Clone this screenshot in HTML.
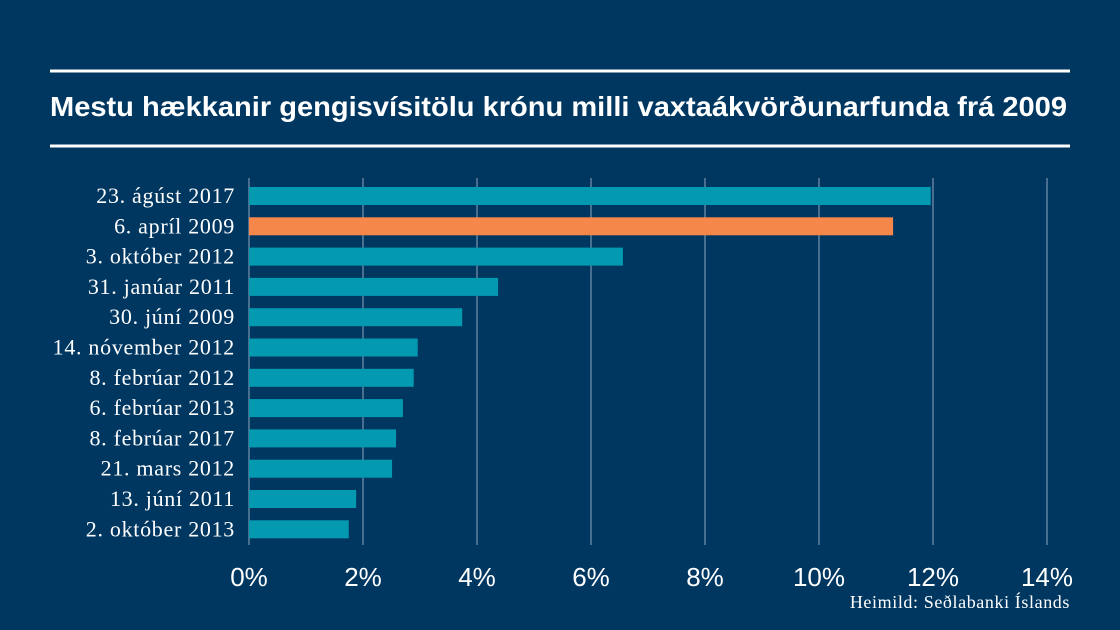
<!DOCTYPE html>
<html><head><meta charset="utf-8"><style>
body{margin:0;background:#003761;}
svg{display:block}
</style></head><body>
<svg id="c" width="1120" height="630" xmlns="http://www.w3.org/2000/svg">
<rect width="1120" height="630" fill="#003761"/>
<line x1="50" y1="71" x2="1070" y2="71" stroke="#fff" stroke-width="3"/>
<text x="50" y="116" fill="#fff" font-family="'Liberation Sans',sans-serif" font-size="28" font-weight="bold" textLength="1017" lengthAdjust="spacingAndGlyphs">Mestu hækkanir gengisvísitölu krónu milli vaxtaákvörðunarfunda frá 2009</text>
<line x1="50" y1="146" x2="1070" y2="146" stroke="#fff" stroke-width="3"/>
<g id="grid"></g><g id="bars"></g><g id="labels"></g><g id="ticks"></g>
<text x="1070" y="608" text-anchor="end" fill="#fff" font-family="'Liberation Serif',serif" font-size="18" letter-spacing="0.6">Heimild: Seðlabanki Íslands</text>
</svg>
<script>
const categories=["23. ágúst 2017","6. apríl 2009","3. október 2012","31. janúar 2011","30. júní 2009","14. nóvember 2012","8. febrúar 2012","6. febrúar 2013","8. febrúar 2017","21. mars 2012","13. júní 2011","2. október 2013"];
const values=[11.96,11.3,6.56,4.37,3.74,2.96,2.89,2.70,2.58,2.51,1.88,1.75];
const highlight=[false,true,false,false,false,false,false,false,false,false,false,false];
const tickValues=[0,2,4,6,8,10,12,14];
const tickLabels=["0%","2%","4%","6%","8%","10%","12%","14%"];
const NS="http://www.w3.org/2000/svg";
const x=v=>249+v*57;
const y=i=>196+i*30.3;
function mk(t,a,p){const e=document.createElementNS(NS,t);for(const k in a)e.setAttribute(k,a[k]);p.appendChild(e);return e;}
const G=document.getElementById('grid'),B=document.getElementById('bars'),L=document.getElementById('labels'),T=document.getElementById('ticks');
tickValues.forEach((v,i)=>{
 const l=mk('line',{x1:x(v),x2:x(v),y1:178,y2:545,stroke:'#8fa6bf','stroke-width':1},G);
 
 
 const t=mk('text',{x:x(v),y:586,'text-anchor':'middle',fill:'#fff','font-family':"'Liberation Sans',sans-serif",'font-size':26},T);
 t.textContent=tickLabels[i];
 
 
});
categories.forEach((c,i)=>{
 const r=mk('rect',{x:x(0),y:y(i)-9,width:x(values[i])-x(0),height:18,fill:highlight[i]?'#f5874a':'#0399b0'},B);
 
 
 const t=mk('text',{x:235,y:y(i)+7,'text-anchor':'end',fill:'#fff','font-family':"'Liberation Serif',serif",'font-size':22,'letter-spacing':0.7},L);
 t.textContent=c;
 
 
});
</script>
</body></html>
